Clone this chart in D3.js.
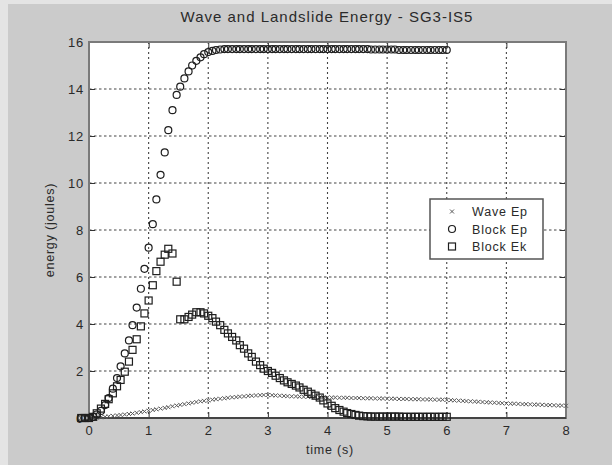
<!DOCTYPE html>
<html>
<head>
<meta charset="utf-8">
<script src="https://d3js.org/d3.v7.min.js"></script>
<style>
  body { margin: 0; background: #cbcbcb; }
  text { font-family: "Liberation Sans", Arial, sans-serif; fill: #2a2a2a; }
</style>
</head>
<body>
<script>
// sample times (s), 15 Hz, starting two samples before t = 0
var time = [-0.13, -0.07,
  0, 0.07, 0.13, 0.2, 0.27, 0.33, 0.4, 0.47, 0.53, 0.6, 0.67, 0.73, 0.8, 0.87, 0.93,
  1, 1.07, 1.13, 1.2, 1.27, 1.33, 1.4, 1.47, 1.53, 1.6, 1.67, 1.73, 1.8, 1.87, 1.93,
  2, 2.07, 2.13, 2.2, 2.27, 2.33, 2.4, 2.47, 2.53, 2.6, 2.67, 2.73, 2.8, 2.87, 2.93,
  3, 3.07, 3.13, 3.2, 3.27, 3.33, 3.4, 3.47, 3.53, 3.6, 3.67, 3.73, 3.8, 3.87, 3.93,
  4, 4.07, 4.13, 4.2, 4.27, 4.33, 4.4, 4.47, 4.53, 4.6, 4.67, 4.73, 4.8, 4.87, 4.93,
  5, 5.07, 5.13, 5.2, 5.27, 5.33, 5.4, 5.47, 5.53, 5.6, 5.67, 5.73, 5.8, 5.87, 5.93,
  6, 6.07, 6.13, 6.2, 6.27, 6.33, 6.4, 6.47, 6.53, 6.6, 6.67, 6.73, 6.8, 6.87, 6.93,
  7, 7.07, 7.13, 7.2, 7.27, 7.33, 7.4, 7.47, 7.53, 7.6, 7.67, 7.73, 7.8, 7.87, 7.93,
  8];

var waveEp = [0, 0,
  0.00, 0.01, 0.02, 0.03, 0.05, 0.07, 0.09, 0.11, 0.13, 0.15, 0.17, 0.19, 0.22, 0.25, 0.28,
  0.31, 0.34, 0.37, 0.40, 0.43, 0.46, 0.50, 0.53, 0.56, 0.59, 0.62, 0.65, 0.68, 0.71, 0.73,
  0.75, 0.78, 0.80, 0.82, 0.84, 0.86, 0.88, 0.89, 0.91, 0.92, 0.94, 0.95, 0.96, 0.97, 0.98,
  0.98, 0.97, 0.96, 0.95, 0.94, 0.93, 0.92, 0.92, 0.91, 0.90, 0.90, 0.89, 0.89, 0.88, 0.88,
  0.88, 0.87, 0.87, 0.86, 0.86, 0.86, 0.85, 0.85, 0.85, 0.84, 0.84, 0.84, 0.83, 0.83, 0.83,
  0.82, 0.82, 0.82, 0.81, 0.81, 0.81, 0.80, 0.80, 0.80, 0.79, 0.79, 0.79, 0.78, 0.78, 0.78,
  0.77, 0.76, 0.75, 0.74, 0.73, 0.72, 0.71, 0.70, 0.69, 0.68, 0.67, 0.66, 0.65, 0.64, 0.63,
  0.62, 0.61, 0.61, 0.60, 0.59, 0.59, 0.58, 0.57, 0.57, 0.56, 0.55, 0.55, 0.54, 0.53, 0.53,
  0.52];

// block series stop at t = 6
var blockEp = [0, 0,
  0, 0.05, 0.15, 0.3, 0.55, 0.85, 1.25, 1.7, 2.2, 2.75, 3.3, 3.95, 4.7, 5.5, 6.35,
  7.25, 8.25, 9.3, 10.35, 11.3, 12.25, 13.1, 13.75, 14.1, 14.45, 14.75, 15.0, 15.2, 15.35, 15.48,
  15.57, 15.62, 15.66, 15.68, 15.7, 15.7, 15.7, 15.7, 15.7, 15.7, 15.7, 15.7, 15.7, 15.7, 15.7,
  15.7, 15.7, 15.7, 15.7, 15.7, 15.7, 15.7, 15.7, 15.7, 15.7, 15.7, 15.7, 15.7, 15.7, 15.7,
  15.7, 15.7, 15.7, 15.7, 15.7, 15.7, 15.7, 15.7, 15.7, 15.7, 15.7, 15.68, 15.68, 15.68, 15.68,
  15.68, 15.68, 15.68, 15.66, 15.66, 15.66, 15.66, 15.66, 15.66, 15.66, 15.66, 15.66, 15.66, 15.66, 15.66,
  15.66];

var blockEk = [0, 0,
  0, 0.05, 0.2, 0.4, 0.6, 0.8, 1.05, 1.35, 1.62, 1.97, 2.4, 2.9, 3.35, 3.9, 4.45,
  5.0, 5.65, 6.25, 6.65, 6.95, 7.2, 7.0, 5.8, 4.2, 4.2, 4.3, 4.4, 4.5, 4.5, 4.45,
  4.35, 4.25, 4.1, 3.95, 3.75, 3.6, 3.45, 3.3, 3.1, 2.95, 2.75, 2.6, 2.4, 2.25, 2.1,
  2.0, 1.92, 1.8, 1.7, 1.6, 1.52, 1.45, 1.38, 1.3, 1.2, 1.12, 1.03, 0.95, 0.87, 0.75,
  0.62, 0.52, 0.42, 0.34, 0.27, 0.21, 0.17, 0.13, 0.1, 0.08, 0.07, 0.06, 0.06, 0.06, 0.06,
  0.06, 0.06, 0.06, 0.06, 0.05, 0.05, 0.05, 0.05, 0.05, 0.05, 0.05, 0.05, 0.05, 0.05, 0.05,
  0.05];

var xTicks = [0, 1, 2, 3, 4, 5, 6, 7, 8]
var yTicks = [0, 2, 4, 6, 8, 10, 12, 14, 16]
var legendNames = ["Wave Ep", "Block Ep", "Block Ek"]

var width = 612, height = 465
var plotLeft = 89, plotRight = 566, plotTop = 42, plotBottom = 418

var svg = d3.select("body").append("svg")
    .attr("width", width)
    .attr("height", height)

// light bevel on the window edge
svg.append("rect").attr("x", 0).attr("y", 0).attr("width", width).attr("height", height).style("fill", "#cbcbcb")
svg.append("rect").attr("x", 0).attr("y", 0).attr("width", 8).attr("height", height).style("fill", "#e4e4e4")
svg.append("rect").attr("x", 0).attr("y", 0).attr("width", width).attr("height", 4).style("fill", "#e4e4e4")

var x = d3.scaleLinear().domain([0, 8]).range([plotLeft, plotRight])
var y = d3.scaleLinear().domain([0, 16]).range([plotBottom, plotTop])

svg.append("rect")
    .attr("x", plotLeft).attr("y", plotTop)
    .attr("width", plotRight - plotLeft).attr("height", plotBottom - plotTop)
    .style("fill", "#fff")

// dotted grid
svg.append("g").selectAll("line").data(xTicks.slice(1, -1)).enter().append("line")
    .attr("x1", d => x(d)).attr("x2", d => x(d))
    .attr("y1", plotTop).attr("y2", plotBottom)
    .style("stroke", "#444").style("stroke-dasharray", "2,3").style("stroke-width", 1.1)
svg.append("g").selectAll("line").data(yTicks.slice(1, -1)).enter().append("line")
    .attr("x1", plotLeft).attr("x2", plotRight)
    .attr("y1", d => y(d)).attr("y2", d => y(d))
    .style("stroke", "#444").style("stroke-dasharray", "2.5,2.5").style("stroke-width", 1.1)

var font = function(sel, size) {
  sel.selectAll("text")
    .style("font-family", '"Liberation Sans", Arial, sans-serif')
    .style("font-size", size + "px")
    .style("letter-spacing", "0.8px")
    .style("fill", "#2a2a2a")
}

var xAxis = svg.append("g").attr("transform", "translate(0," + plotBottom + ")")
    .call(d3.axisBottom(x).tickValues(xTicks).tickFormat(d3.format("d")).tickSizeInner(-6).tickSizeOuter(0).tickPadding(8))
xAxis.select(".domain").remove()
xAxis.selectAll("line").style("stroke", "#333")
font(xAxis, 13)

var yAxis = svg.append("g").attr("transform", "translate(" + plotLeft + ",0)")
    .call(d3.axisLeft(y).tickValues(yTicks).tickFormat(d3.format("d")).tickSizeInner(-6).tickSizeOuter(0).tickPadding(5))
yAxis.select(".domain").remove()
yAxis.selectAll("line").style("stroke", "#333")
font(yAxis, 13)

// mirrored ticks on top and right
var xTop = svg.append("g").attr("transform", "translate(0," + plotTop + ")")
    .call(d3.axisTop(x).tickValues(xTicks).tickFormat("").tickSizeInner(-6).tickSizeOuter(0))
xTop.select(".domain").remove()
xTop.selectAll("line").style("stroke", "#333")
var yRight = svg.append("g").attr("transform", "translate(" + plotRight + ",0)")
    .call(d3.axisRight(y).tickValues(yTicks).tickFormat("").tickSizeInner(-6).tickSizeOuter(0))
yRight.select(".domain").remove()
yRight.selectAll("line").style("stroke", "#333")

// axes box
svg.append("rect")
    .attr("x", plotLeft).attr("y", plotTop)
    .attr("width", plotRight - plotLeft).attr("height", plotBottom - plotTop)
    .style("fill", "none").style("stroke", "#7a7a7a").style("stroke-width", 2)
svg.append("line")
    .attr("x1", plotLeft).attr("x2", plotRight).attr("y1", plotBottom).attr("y2", plotBottom)
    .style("stroke", "#444").style("stroke-width", 2)

var wavePts = time.map((t, i) => ({t: t, e: waveEp[i]}))
var epPts = blockEp.map((e, i) => ({t: time[i], e: e}))
var ekPts = blockEk.map((e, i) => ({t: time[i], e: e}))

var cross = "M-2,-2L2,2M-2,2L2,-2"

svg.append("g").selectAll("path").data(wavePts).enter().append("path")
    .attr("d", cross)
    .attr("transform", d => "translate(" + x(d.t) + "," + y(d.e) + ")")
    .style("fill", "none").style("stroke", "#5a5a5a").style("stroke-width", 1)

svg.append("g").selectAll("circle").data(epPts).enter().append("circle")
    .attr("cx", d => x(d.t)).attr("cy", d => y(d.e)).attr("r", 3.5)
    .style("fill", "none").style("stroke", "#1e1e1e").style("stroke-width", 1.2)

svg.append("g").selectAll("rect").data(ekPts).enter().append("rect")
    .attr("x", d => x(d.t) - 3.5).attr("y", d => y(d.e) - 3.5)
    .attr("width", 7).attr("height", 7)
    .style("fill", "none").style("stroke", "#1e1e1e").style("stroke-width", 1.2)

// title and labels
svg.append("text").attr("x", 327).attr("y", 22).attr("text-anchor", "middle")
    .style("font-size", "15px").style("letter-spacing", "1px")
    .text("Wave and Landslide Energy - SG3-IS5")
svg.append("text").attr("x", 330).attr("y", 454).attr("text-anchor", "middle")
    .style("font-size", "12.5px").style("letter-spacing", "0.8px")
    .text("time (s)")
svg.append("text").attr("transform", "translate(54,230) rotate(-90)").attr("text-anchor", "middle")
    .style("font-size", "12.5px").style("letter-spacing", "0.8px")
    .text("energy (joules)")

// legend
var legend = svg.append("g")
legend.append("rect")
    .attr("x", 430).attr("y", 199).attr("width", 113).attr("height", 60)
    .style("fill", "#fff").style("stroke", "#555").style("stroke-width", 1.5)
var rowY = [211.5, 229, 246.5]
legend.selectAll("text").data(legendNames).enter().append("text")
    .attr("x", 472).attr("y", (d, i) => rowY[i] + 4.5)
    .style("font-size", "12.5px").style("letter-spacing", "0.8px")
    .text(d => d)
legend.append("path").attr("d", cross).attr("transform", "translate(452," + rowY[0] + ")")
    .style("fill", "none").style("stroke", "#5a5a5a")
legend.append("circle").attr("cx", 452).attr("cy", rowY[1]).attr("r", 3.5)
    .style("fill", "none").style("stroke", "#1e1e1e").style("stroke-width", 1.2)
legend.append("rect").attr("x", 448.5).attr("y", rowY[2] - 3.5).attr("width", 7).attr("height", 7)
    .style("fill", "none").style("stroke", "#1e1e1e").style("stroke-width", 1.2)
</script>
</body>
</html>
